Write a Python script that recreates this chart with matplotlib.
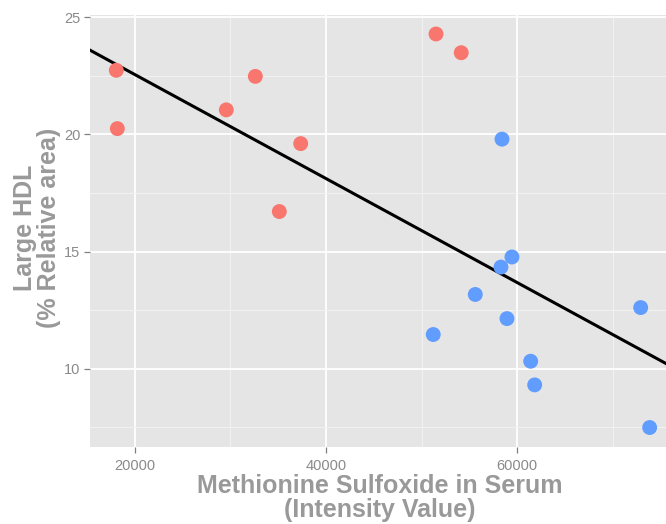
import numpy as np
import matplotlib.pyplot as plt
from matplotlib.ticker import MultipleLocator

# Methionine sulfoxide (intensity) vs large HDL (% relative area)
red_x = [18040, 18150, 29560, 32600, 37350, 35110, 51520, 54160]
red_y = [22.74, 20.25, 21.05, 22.48, 19.61, 16.71, 24.29, 23.49]
blue_x = [58430, 59470, 58320, 55630, 58950, 51230, 61430, 61850, 72950, 73890]
blue_y = [19.80, 14.77, 14.34, 13.17, 12.14, 11.46, 10.32, 9.31, 12.61, 7.49]

# fitted line as drawn in the original
fit_intercept = 26.99
fit_slope = -0.0002218

x_ticks = [20000, 40000, 60000]
y_ticks = [10, 15, 20, 25]

plt.rcParams['font.family'] = ['Liberation Sans', 'DejaVu Sans']

fig = plt.figure(figsize=(6.66, 5.24), dpi=100)
ax = fig.add_axes([90/666, 1 - 446.5/524, 1 - 90/666, (446.5 - 15)/524])

ax.set_facecolor('#E5E5E5')
for s in ax.spines.values():
    s.set_visible(False)

ax.set_xlim(15288, 75602)
ax.set_ylim(6.68, 25.10)
ax.set_xticks(x_ticks)
ax.set_yticks(y_ticks)
ax.xaxis.set_minor_locator(MultipleLocator(10000))
ax.yaxis.set_minor_locator(MultipleLocator(2.5))
ax.grid(which='major', color='white', linewidth=1.3)
ax.grid(which='minor', color='#F2F2F2', linewidth=0.7)
ax.set_axisbelow(True)

ax.tick_params(which='major', direction='out', length=4, width=0.9,
               color='#808080', labelcolor='#8A8A8A', labelsize=10.5)
ax.tick_params(axis='x', pad=5)
ax.tick_params(axis='y', pad=3)
ax.tick_params(which='minor', length=0)

ax.axline((0, fit_intercept), slope=fit_slope, color='black', linewidth=2.2, zorder=2)

ax.scatter(red_x, red_y, s=115, color='#F8766D', edgecolors='none', zorder=3)
ax.scatter(blue_x, blue_y, s=115, color='#619CFF', edgecolors='none', zorder=3)

fig.text(380/666, 1 - 474/524, 'Methionine Sulfoxide in Serum\n(Intensity Value)',
         ha='center', va='top', fontsize=18, fontweight='bold', color='#999999',
         linespacing=1.0)
fig.text(37/666, 1 - 228/524, 'Large HDL\n(% Relative area)',
         ha='center', va='center', rotation=90, fontsize=18, fontweight='bold',
         color='#999999', linespacing=1.0)

fig.savefig('out.png', dpi=100)
